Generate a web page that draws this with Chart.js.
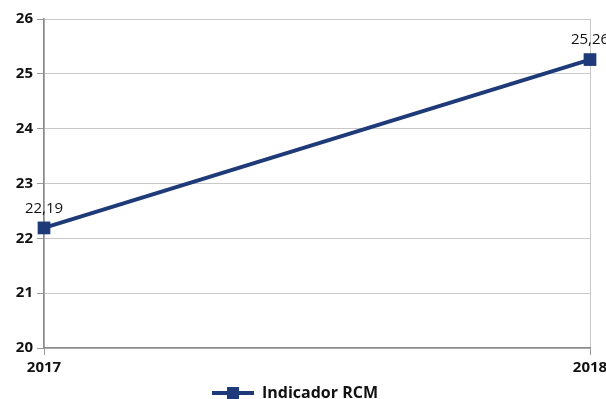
<!DOCTYPE html>
<html>
<head>
<meta charset="utf-8">
<script src="https://cdn.jsdelivr.net/npm/chart.js@4/dist/chart.umd.min.js"></script>
<style>
  html, body { margin: 0; padding: 0; background: #fff; }
  #wrap { width: 606px; height: 399px; position: relative; }
</style>
</head>
<body>
<div id="wrap"><canvas id="chart"></canvas></div>
<script>
// ── Data ──────────────────────────────────────────────
const years = ['2017', '2018'];
const rcmValues = [22.19, 25.26];
const seriesName = 'Indicador RCM';
const yMin = 20, yMax = 26;

const LINE_COLOR = '#1f3a78';
const FONT = "'Open Sans', 'Noto Sans', sans-serif";

Chart.defaults.font.family = FONT;
Chart.defaults.color = '#111';

// legend swatch: line with square marker
function legendSwatch() {
  const c = document.createElement('canvas');
  c.width = 42; c.height = 14;
  const g = c.getContext('2d');
  g.strokeStyle = LINE_COLOR;
  g.lineWidth = 4;
  g.beginPath(); g.moveTo(0, 7); g.lineTo(42, 7); g.stroke();
  g.fillStyle = LINE_COLOR;
  g.fillRect(15, 1, 12, 12);
  return c;
}

// ── Value labels above points ─────────────────────────
const valueLabels = {
  id: 'valueLabels',
  afterDatasetsDraw(chart) {
    const ctx = chart.ctx;
    const meta = chart.getDatasetMeta(0);
    ctx.save();
    ctx.font = '15px ' + FONT;
    ctx.fillStyle = '#111';
    ctx.textAlign = 'center';
    ctx.textBaseline = 'bottom';
    meta.data.forEach((pt, i) => {
      const txt = rcmValues[i].toFixed(2).replace('.', ',');
      ctx.fillText(txt, pt.x, pt.y - 12);
    });
    ctx.restore();
  },
};

new Chart(document.getElementById('chart'), {
  type: 'line',
  data: {
    labels: years,
    datasets: [{
      label: seriesName,
      data: rcmValues,
      borderColor: LINE_COLOR,
      backgroundColor: LINE_COLOR,
      borderWidth: 4,
      pointStyle: 'rect',
      pointRadius: 9,
      pointBorderWidth: 0,
      tension: 0,
      clip: false,
    }],
  },
  options: {
    responsive: true,
    maintainAspectRatio: false,
    animation: false,
    layout: { padding: { top: 19, right: 16, left: 0, bottom: -12 } },
    plugins: {
      tooltip: { enabled: false },
      legend: {
        position: 'bottom',
        labels: {
          usePointStyle: true,
          pointStyle: legendSwatch(),
          pointStyleWidth: 42,
          padding: 4,
          color: '#111',
          font: { size: 16, weight: 'bold' },
        },
      },
    },
    scales: {
      x: {
        offset: false,
        afterFit(s) { s.height = 33; s.paddingLeft = 0; s.paddingRight = 0; },
        grid: { color: '#c8c8c8', tickLength: 7, tickColor: '#999' },
        border: { color: '#8a8a8a', width: 1.5 },
        ticks: { color: '#111', padding: 4, font: { size: 15, weight: 'bold' }, maxRotation: 0 },
      },
      y: {
        min: yMin,
        max: yMax,
        afterFit(s) { s.width = 44; s.paddingTop = 0; s.paddingBottom = 0; },
        grid: { color: '#c8c8c8', tickLength: 7, tickColor: '#999' },
        border: { color: '#8a8a8a', width: 1.5 },
        ticks: { stepSize: 1, color: '#111', padding: 4, font: { size: 15, weight: 'bold' } },
      },
    },
  },
  plugins: [valueLabels],
});
</script>
</body>
</html>
